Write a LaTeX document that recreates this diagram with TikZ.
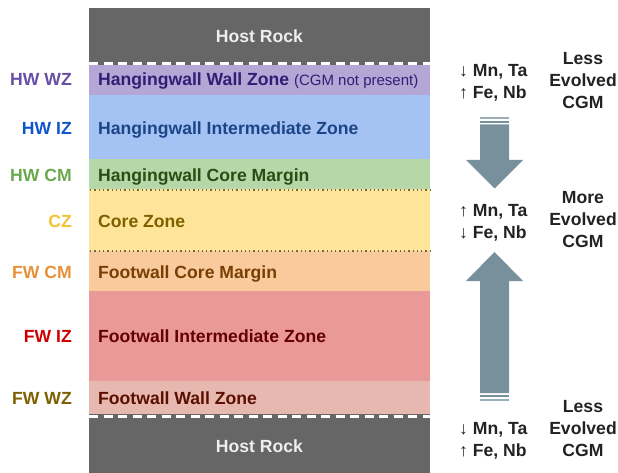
\documentclass[tikz,border=0pt]{standalone}
\usepackage{fontspec}
\setmainfont{Liberation Sans}
\definecolor{hostc}{HTML}{666666}
\definecolor{hosttxt}{HTML}{EEEEEE}
\definecolor{purpf}{HTML}{B4A7D6}
\definecolor{bluef}{HTML}{A4C2F4}
\definecolor{greenf}{HTML}{B6D7A8}
\definecolor{yellf}{HTML}{FFE599}
\definecolor{orangf}{HTML}{F9CB9C}
\definecolor{redf}{HTML}{EA9999}
\definecolor{pinkf}{HTML}{E6B8AF}
\definecolor{purpl}{HTML}{674EA7}
\definecolor{bluel}{HTML}{1155CC}
\definecolor{greenl}{HTML}{6AA84F}
\definecolor{yelll}{HTML}{F1C232}
\definecolor{orangl}{HTML}{E69138}
\definecolor{redl}{HTML}{CC0000}
\definecolor{brownl}{HTML}{7F6000}
\definecolor{purpt}{HTML}{351C75}
\definecolor{bluet}{HTML}{1C4587}
\definecolor{greent}{HTML}{274E13}
\definecolor{yellt}{HTML}{7F6000}
\definecolor{orangt}{HTML}{783F04}
\definecolor{redt}{HTML}{660000}
\definecolor{pinkt}{HTML}{5B0F00}
\definecolor{arrc}{HTML}{78909C}
\definecolor{dotc}{HTML}{6E6A48}
\definecolor{rtxt}{HTML}{222222}
\begin{document}
\begin{tikzpicture}[x=1pt,y=-1pt,
  zone/.style={draw=none, minimum width=341pt, inner sep=0pt, anchor=north west, rectangle},
  ztext/.style={font=\fontsize{17.6}{20}\selectfont\bfseries, anchor=west, text height=12.6pt, text depth=0pt, inner xsep=0pt, inner ysep=0pt},
  ltext/.style={font=\fontsize{17.6}{20}\selectfont\bfseries, anchor=east, text height=12.6pt, text depth=0pt, inner xsep=0pt, inner ysep=0pt},
  rtext/.style={font=\fontsize{17.6}{20}\selectfont\bfseries, anchor=center, text=rtxt, text height=12.6pt, text depth=0pt, inner xsep=0pt, inner ysep=0pt},
  etext/.style={font=\fontsize{17.6}{20}\selectfont\bfseries, anchor=west, text=rtxt, text height=12.6pt, text depth=0pt, inner xsep=0pt, inner ysep=0pt},
  sepdash/.style={draw=white, line width=2.6pt, dash pattern=on 9pt off 5.5pt},
  sepdot/.style={draw=dotc, line width=1.4pt, dash pattern=on 1.3pt off 3pt},
  bigarrow/.style={fill=arrc, draw=none}
]
\useasboundingbox (0,0) rectangle (618,473);
% zones
\node[zone, fill=hostc, minimum height=57pt] (hosttop) at (89,8) {};
\node[zone, fill=purpf, minimum height=30pt] (hwwz) at (89,65) {};
\node[zone, fill=bluef, minimum height=64.5pt] (hwiz) at (89,94.5) {};
\node[zone, fill=greenf, minimum height=30.5pt] (hwcm) at (89,159) {};
\node[zone, fill=yellf, minimum height=61.5pt] (cz) at (89,189) {};
\node[zone, fill=orangf, minimum height=40.8pt] (fwcm) at (89,250.5) {};
\node[zone, fill=redf, minimum height=90.5pt] (fwiz) at (89,291) {};
\node[zone, fill=pinkf, minimum height=32.5pt] (fwwz) at (89,381) {};
\node[zone, fill=hostc, minimum height=60pt] (hostbot) at (89,413.5) {};
% separators
\draw[sepdash] (hosttop.south west) ++(0,-1.8) -- ++(341,0);
\draw[sepdash] (hostbot.north west) ++(0,3) -- ++(341,0);
\draw[sepdot] (hwcm.south west) ++(1,0) -- ++(340,0);
\draw[sepdot] (cz.south west) ++(1,0) -- ++(340,0);
% host texts
\node[ztext, anchor=center, text=hosttxt] (ht1) at (259.5,36.7) {Host Rock};
\node[ztext, anchor=center, text=hosttxt] (ht2) at (259.5,446) {Host Rock};
% zone texts
\node[ztext, text=purpt] (t1) at (98,79.5) {Hangingwall Wall Zone {\mdseries\fontsize{15}{18}\selectfont(CGM not present)}};
\node[ztext, text=bluet] (t2) at (98,128) {Hangingwall Intermediate Zone};
\node[ztext, text=greent] (t3) at (98,175) {Hangingwall Core Margin};
\node[ztext, text=yellt] (t4) at (98,221.5) {Core Zone};
\node[ztext, text=orangt] (t5) at (98,272) {Footwall Core Margin};
\node[ztext, text=redt] (t6) at (98,336.5) {Footwall Intermediate Zone};
\node[ztext, text=pinkt] (t7) at (98,398) {Footwall Wall Zone};
% left labels
\node[ltext, text=purpl] (l1) at (72,79.5) {HW WZ};
\node[ltext, text=bluel] (l2) at (72,128) {HW IZ};
\node[ltext, text=greenl] (l3) at (72,175) {HW CM};
\node[ltext, text=yelll] (l4) at (72,221.5) {CZ};
\node[ltext, text=orangl] (l5) at (72,272) {FW CM};
\node[ltext, text=redl] (l6) at (72,336.5) {FW IZ};
\node[ltext, text=brownl] (l7) at (72,398) {FW WZ};
% element trends
\node[etext] (e1) at (459,70) {{\mdseries ↓} Mn, Ta};
\node[etext] (e2) at (459,92) {{\mdseries ↑} Fe, Nb};
\node[etext] (e3) at (459,210) {{\mdseries ↑} Mn, Ta};
\node[etext] (e4) at (459,232) {{\mdseries ↓} Fe, Nb};
\node[etext] (e5) at (459,428) {{\mdseries ↓} Mn, Ta};
\node[etext] (e6) at (459,450) {{\mdseries ↑} Fe, Nb};
% evolution labels
\node[rtext] (r1) at (583,58) {Less};
\node[rtext] (r2) at (583,80) {Evolved};
\node[rtext] (r3) at (583,102) {CGM};
\node[rtext] (r4) at (583,197) {More};
\node[rtext] (r5) at (583,219) {Evolved};
\node[rtext] (r6) at (583,241) {CGM};
\node[rtext] (r7) at (583,406) {Less};
\node[rtext] (r8) at (583,428) {Evolved};
\node[rtext] (r9) at (583,450) {CGM};
% down arrow
\fill[arrc!75] (480,117) rectangle (509,119);
\fill[arrc] (480,121) rectangle (509,122.8);
\fill[bigarrow] (480,124.5) -- (509,124.5) -- (509,160) -- (523,160) -- (494.5,188.5) -- (466,160) -- (480,160) -- cycle;
% up arrow
\fill[bigarrow] (480,393) -- (509,393) -- (509,281) -- (523,281) -- (494.5,252) -- (466,281) -- (480,281) -- cycle;
\fill[arrc] (480,394.8) rectangle (509,396.5);
\fill[arrc!75] (480,398.5) rectangle (509,400.5);
\end{tikzpicture}
\end{document}
